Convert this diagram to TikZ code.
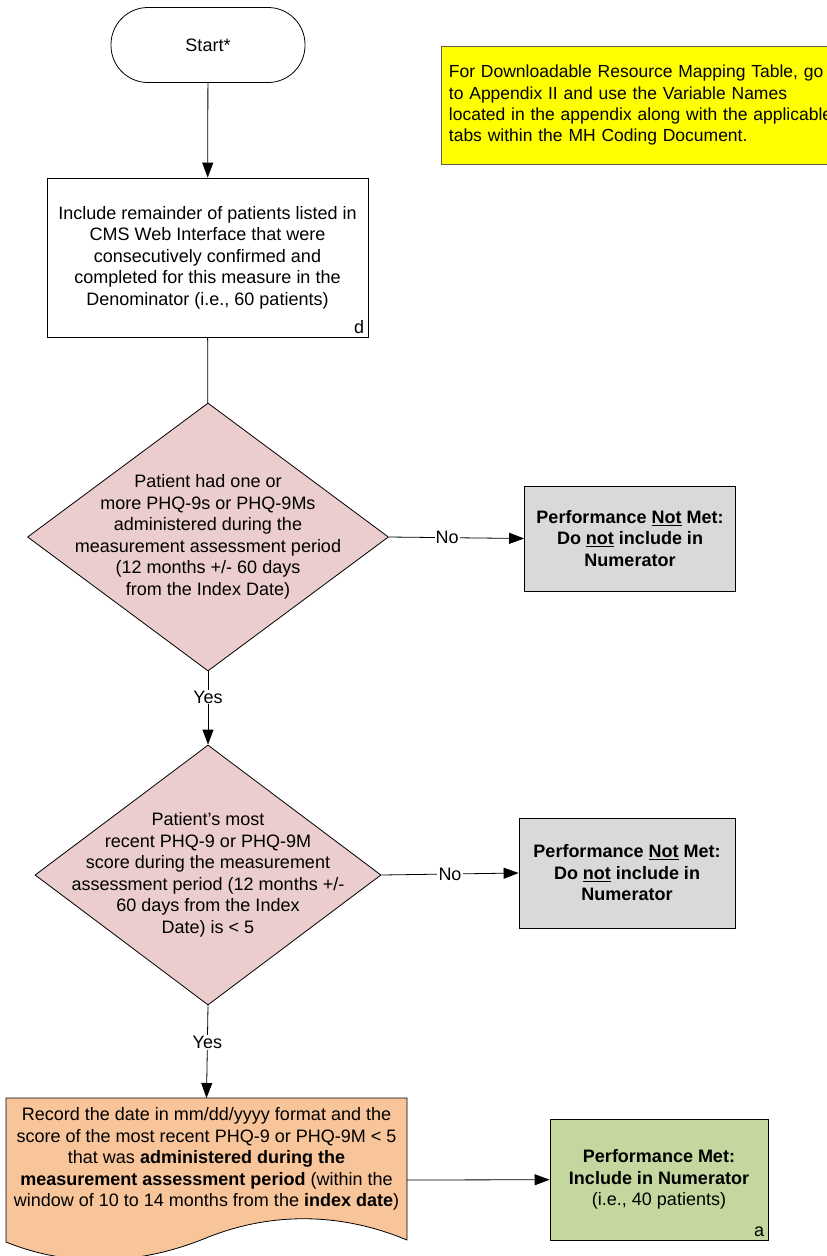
\documentclass[tikz,border=0pt]{standalone}
\usepackage{fontspec}
\setmainfont{Liberation Sans}
\usepackage{tikz}
\usetikzlibrary{arrows.meta,positioning,shapes,calc}
\definecolor{notepink}{RGB}{234,205,204}
\definecolor{notgray}{RGB}{217,217,217}
\definecolor{docorange}{RGB}{248,196,154}
\definecolor{metgreen}{RGB}{196,215,158}
\definecolor{noteyellow}{RGB}{255,255,0}

\begin{document}
\begin{tikzpicture}[x=1pt, y=-1pt,
    every node/.style={font=\fontsize{18}{21.5}\selectfont},
    arr/.style={draw, line width=0.8pt, -{Triangle[length=15pt,width=11pt]}},
    line/.style={draw, line width=0.8pt},
    lbl/.style={fill=white, inner sep=1pt},
    terminal/.style={draw, line width=0.8pt, rounded corners=37pt, minimum width=194pt, minimum height=75pt},
    procbox/.style={draw, line width=0.8pt, align=center, minimum width=321pt, minimum height=159pt},
    decision/.style={draw, line width=0.8pt, diamond, fill=notepink, inner sep=0pt},
    notmet/.style={draw, line width=0.8pt, fill=notgray, align=center, font=\fontsize{18}{21.5}\selectfont\bfseries},
    tag/.style={anchor=south east, inner sep=4pt}]
    % Rahmen
    \clip (0,0) rectangle (827,1256);
    \useasboundingbox (0,0) rectangle (827,1256);

    % Hinweis
    \node[draw=black!70!yellow, line width=0.8pt, fill=noteyellow, anchor=north west,
          minimum width=440pt, minimum height=118pt, text width=425pt, align=left, inner xsep=4pt,
          font=\fontsize{17.5}{21.3}\selectfont]
          (note) at (441,46) {For Downloadable Resource Mapping Table, go\\
          to Appendix II and use the Variable Names\\
          located in the appendix along with the applicable\\
          tabs within the MH Coding Document.};

    % Start
    \node[terminal] (start) at (208,45) {Start*};

    % Nenner
    \node[procbox] (denom) at (207.5,257.5) {Include remainder of patients listed in\\
        CMS Web Interface that were\\
        consecutively confirmed and\\
        completed for this measure in the\\
        Denominator (i.e., 60 patients)};
    \node[tag] (denomtag) at (denom.south east) {d};

    % Entscheidung 1
    \node[decision, minimum width=361pt, minimum height=268pt] (q1) at (208,537) {};
    \node[align=center, inner sep=0pt] (q1txt) at (q1.center)
        {Patient had one or\\ more PHQ-9s or PHQ-9Ms\\ administered during the\\
         measurement assessment period\\ (12 months +/- 60 days\\ from the Index Date)};
    \node[notmet, minimum width=211pt, minimum height=105pt] (notmet1) at (630,538.5)
        {Performance \underline{Not} Met:\\ Do \underline{not} include in\\ Numerator};

    % Entscheidung 2
    \node[decision, minimum width=346pt, minimum height=260pt] (q2) at (208,875) {};
    \node[align=center, inner sep=0pt] (q2txt) at (q2.center)
        {Patient's most\\ recent PHQ-9 or PHQ-9M\\ score during the measurement\\
         assessment period (12 months +/-\\ 60 days from the Index\\ Date) is < 5};
    \node[notmet, minimum width=216pt, minimum height=110pt] (notmet2) at (627,873)
        {Performance \underline{Not} Met:\\ Do \underline{not} include in\\ Numerator};

    % Dokument
    \coordinate (docT) at (206.5,1098);
    \coordinate (docR) at (407,1180);
    \draw[line width=0.8pt, fill=docorange] (6,1098) -- (407,1098) -- (407,1240)
        .. controls (340,1212) and (270,1212) .. (206,1238)
        .. controls (140,1265) and (70,1268) .. (6,1242) -- cycle;
    \node[align=center, inner sep=0pt] (record) at (206.5,1159)
        {Record the date in mm/dd/yyyy format and the\\
         score of the most recent PHQ-9 or PHQ-9M < 5\\
         that was \textbf{administered during the}\\
         \textbf{measurement assessment period} (within the\\
         window of 10 to 14 months from the \textbf{index date})};

    % Zaehler
    \node[draw, line width=0.8pt, fill=metgreen, align=center, minimum width=218pt, minimum height=121pt]
        (met) at (659,1179.5) {\textbf{Performance Met:}\\ \textbf{Include in Numerator}\\ (i.e., 40 patients)};
    \node[tag] (mettag) at (met.south east) {a};

    % Verbindungen
    \draw[arr] (start) -- (denom);
    \draw[line] (denom) -- (q1);
    \draw[arr] (q1.east) -- node[lbl, pos=0.43] {No} (notmet1.west);
    \draw[arr] (q1.south) -- node[lbl, pos=0.35] {Yes} (q2.north);
    \draw[arr] (q2.east) -- node[lbl, pos=0.5] {No} (notmet2.west);
    \draw[arr] (q2.south) -- node[lbl, pos=0.4] {Yes} (docT);
    \draw[arr] (docR) -- (met);
\end{tikzpicture}
\end{document}
